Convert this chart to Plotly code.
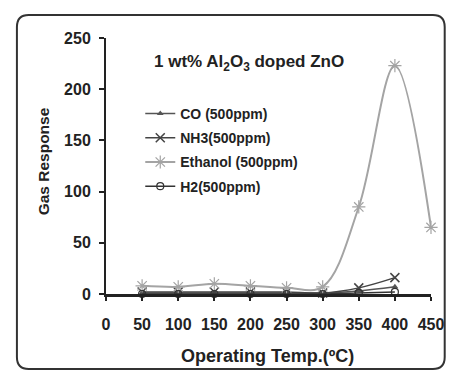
import plotly.graph_objects as go

temps = [50, 100, 150, 200, 250, 300, 350, 400, 450]
temps_short = [50, 100, 150, 200, 250, 300, 350, 400]
co = [1, 1, 1, 1, 1, 1, 3, 7]
nh3 = [2, 2, 2, 2, 2, 1, 6, 16]
ethanol = [8, 7, 10, 8, 6, 7, 85, 223, 65]
h2 = [0, 0, 0, 0, 0, 0, 1, 2]
x_ticks = [0, 50, 100, 150, 200, 250, 300, 350, 400, 450]
y_ticks = [0, 50, 100, 150, 200, 250]

font_fam = "Liberation Sans, Arial, sans-serif"
ink = "#222222"

# figure is drawn inside the page body (8px default margin), so work in figure pixels
W, H = 448, 366
L, R, T, B = 98, 18, 30, 80
pw, ph = W - L - R, H - T - B


def px(xpix):
    return (xpix - L) / pw


def py(ypix):
    return (H - B - ypix) / ph


fig = go.Figure()
fig.add_trace(go.Scatter(x=temps_short, y=co, name="CO (500ppm)", mode="lines+markers",
                         line=dict(color="#555555", width=1.5, shape="spline"),
                         marker=dict(symbol="triangle-up", size=6, color="#555555"),
                         legendgroup="a", cliponaxis=False))
fig.add_trace(go.Scatter(x=temps_short, y=nh3, name="NH3(500ppm)", mode="lines+markers",
                         line=dict(color="#444444", width=1.5, shape="spline"),
                         marker=dict(symbol="x-thin", size=9, color="#444444",
                                     line=dict(width=1.5, color="#444444")),
                         legendgroup="b", cliponaxis=False))
fig.add_trace(go.Scatter(x=temps, y=ethanol, name="Ethanol (500ppm)", mode="lines+markers",
                         line=dict(color="#a4a4a4", width=2, shape="spline"),
                         marker=dict(symbol="asterisk-open", size=11, color="#a4a4a4",
                                     line=dict(width=1.2, color="#a4a4a4")),
                         legendgroup="c", cliponaxis=False))
fig.add_trace(go.Scatter(x=temps_short, y=h2, name="H2(500ppm)", mode="lines+markers",
                         line=dict(color="#333333", width=1.5, shape="spline"),
                         marker=dict(symbol="circle-open", size=7, color="#333333",
                                     line=dict(width=1.2, color="#333333")),
                         legendgroup="d", cliponaxis=False))

fig.update_layout(
    width=W, height=H,
    margin=dict(l=L, r=R, t=T, b=B),
    paper_bgcolor="white", plot_bgcolor="white",
    font=dict(family=font_fam, size=12, color=ink),
    showlegend=True,
    legend=dict(x=px(133), y=py(90), xanchor="left", yanchor="top",
                bgcolor="rgba(0,0,0,0)", tracegroupgap=3,
                font=dict(size=14, family=font_fam, color=ink, weight="bold")),
    annotations=[
        dict(text="1 wt% Al<sub>2</sub>O<sub>3</sub> doped ZnO", x=px(244), y=py(55),
             xref="paper", yref="paper", xanchor="center", yanchor="middle",
             showarrow=False, font=dict(size=17, weight="bold", color=ink)),
        dict(text="Operating Temp.(ºC)", x=px(263), y=py(348),
             xref="paper", yref="paper", xanchor="center", yanchor="middle",
             showarrow=False, font=dict(size=18, weight="bold", color=ink)),
        dict(text="Gas Response", x=px(34), y=py(153), textangle=-90,
             xref="paper", yref="paper", xanchor="center", yanchor="middle",
             showarrow=False, font=dict(size=15.5, weight="bold", color=ink)),
    ],
)

fig.update_xaxes(range=[0, 450], tickvals=x_ticks, showgrid=False, zeroline=False,
                 showline=True, linecolor=ink, linewidth=2.5,
                 ticks="outside", ticklen=4, tickcolor=ink, tickwidth=1.5,
                 tickfont=dict(size=16, weight="bold", color=ink),
                 ticklabelstandoff=10)
fig.update_yaxes(range=[0, 250], tickvals=y_ticks, showgrid=False, zeroline=False,
                 showline=True, linecolor=ink, linewidth=2,
                 ticks="outside", ticklen=5, tickcolor=ink, tickwidth=1.5,
                 tickfont=dict(size=16, weight="bold", color=ink),
                 ticklabelstandoff=5)

# rounded frame around the chart (paper coordinates)
x0, x1, y0, y1, r = 7, 444, 7, 361, 12
path = (f"M {px(x0+r)},{py(y0)} L {px(x1-r)},{py(y0)} Q {px(x1)},{py(y0)} {px(x1)},{py(y0+r)} "
        f"L {px(x1)},{py(y1-r)} Q {px(x1)},{py(y1)} {px(x1-r)},{py(y1)} "
        f"L {px(x0+r)},{py(y1)} Q {px(x0)},{py(y1)} {px(x0)},{py(y1-r)} "
        f"L {px(x0)},{py(y0+r)} Q {px(x0)},{py(y0)} {px(x0+r)},{py(y0)} Z")
fig.add_shape(type="path", path=path, xref="paper", yref="paper",
              line=dict(color="#333333", width=2), layer="below")

fig.write_html("out.html")
